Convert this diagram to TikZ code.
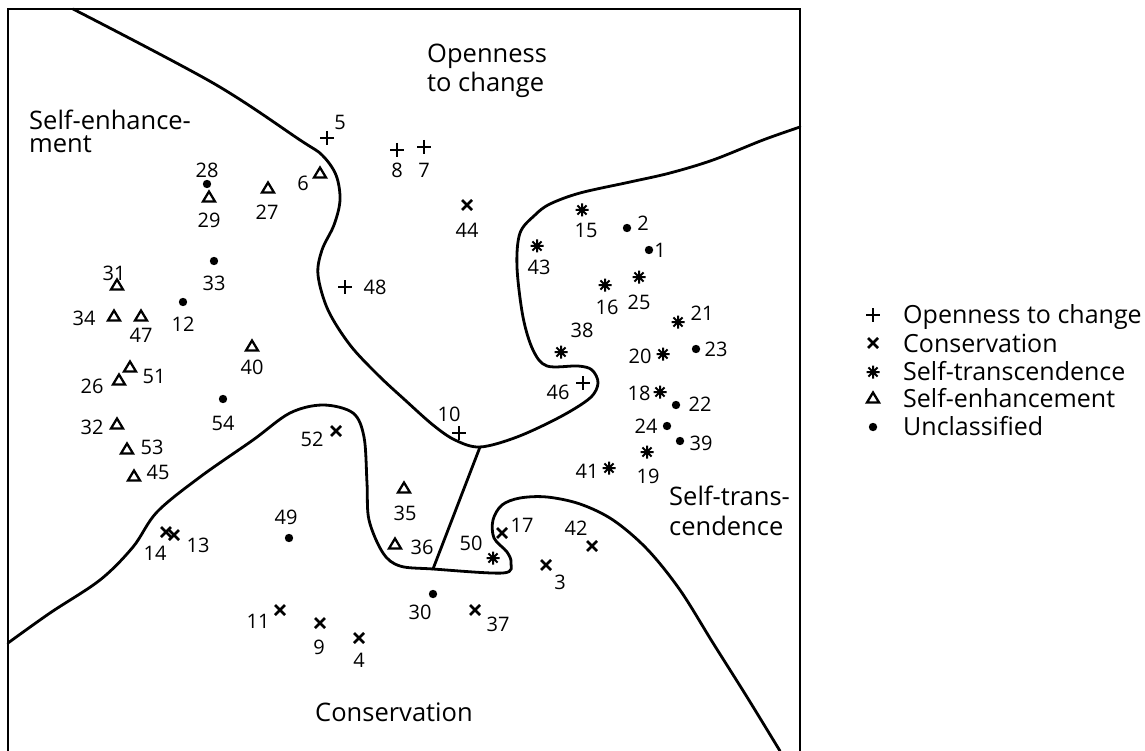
\documentclass[tikz,border=0pt]{standalone}
\usepackage{fontspec}
\setmainfont{Open Sans}
\tikzset{
	mk/.style={line width=2.5pt, line cap=butt},
	num/.style={font=\fontsize{20}{23}\selectfont, inner sep=0pt},
	region/.style={font=\fontsize{25.5}{30}\selectfont, anchor=base west, inner sep=0pt},
	legtxt/.style={font=\fontsize{25}{30}\selectfont, anchor=base west, inner sep=0pt},
	border/.style={line width=2.2pt, line join=miter},
	bound/.style={line width=2.8pt},
	plusmk/.pic={\draw[mk] (-7,0)--(7,0) (0,-7)--(0,7);},
	crossmk/.pic={\draw[mk] (-5,-5)--(5,5) (-5,5)--(5,-5);},
	starmk/.pic={\draw[mk,line width=2pt] (-6.5,0)--(6.5,0) (0,-6.5)--(0,6.5) (-4.6,-4.6)--(4.6,4.6) (-4.6,4.6)--(4.6,-4.6);},
	trimk/.pic={\draw[line width=2.3pt, line join=miter] (-6,4.5)--(6,4.5)--(0,-5.5)--cycle;},
	dotmk/.pic={\fill (0,0) circle (4.2);}
}
\begin{document}
\begin{tikzpicture}[x=1pt, y=-1pt, line join=round, line cap=round]
	\useasboundingbox (0,0) rectangle (1145,751);
	%frame, open at the bottom
	\draw[border] (8,751) -- (8,9) -- (800,9) -- (800,751);
	\coordinate (jtop) at (480,447);
	\coordinate (jbot) at (433,569);
	% region boundaries
	\draw[bound] plot[smooth, tension=0.55] coordinates {(73,9) (213,83) (300,140) (322,155) (336,175) (340,200) (334,225) (322,250) (318,275) (328,310) (350,345) (378,375) (405,400) (433,425) (455,440) (jtop) (517,437) (560,417) (590,398) (598,383) (592,370) (578,366) (547,366) (533,350) (523,317) (517,267) (520,233) (535,215) (550,204) (580,193) (630,182) (670,173) (713,160) (763,140) (800,127)};
	\draw[bound] plot[smooth, tension=0.55] coordinates {(8,643) (50,613) (100,580) (133,547) (157,512) (200,477) (253,440) (290,413) (323,405) (353,413) (364,437) (367,483) (369,520) (383,553) (400,566) (jbot) (503,573) (511,563) (507,552) (494,538) (493,520) (502,505) (520,498) (547,497) (580,504) (613,520) (647,549) (680,590) (713,643) (747,697) (780,751)};
	\draw[bound] (jtop) -- (jbot);
	% region names
	\node[region] (open1) at (427,63) {Openness};
	\node[region] (open2) at (427,92) {to change};
	\node[region] (enh1) at (29,130) {Self-enhance-};
	\node[region] (enh2) at (29,153) {ment};
	\node[region] (tra1) at (669,505) {Self-trans-};
	\node[region] (tra2) at (669,535) {cendence};
	\node[region] (cons) at (315,721) {Conservation};
	% openness to change
	\path (327,138) pic{plusmk} node[num, shift={(13,-16)}] (n5) {5};
	\path (397,150) pic{plusmk} node[num, shift={(0,20)}] (n8) {8};
	\path (424,147) pic{plusmk} node[num, shift={(0,23)}] (n7) {7};
	\path (345,287) pic{plusmk} node[num, shift={(30,0)}] (n48) {48};
	\path (583,383) pic{plusmk} node[num, shift={(-25,9)}] (n46) {46};
	\path (459,433) pic{plusmk} node[num, shift={(-10,-19)}] (n10) {10};
	% conservation
	\path (467,205) pic{crossmk} node[num, shift={(0,25)}] (n44) {44};
	\path (336,431) pic{crossmk} node[num, shift={(-24,8)}] (n52) {52};
	\path (166,532) pic{crossmk} node[num, shift={(-11,21)}] (n14) {14};
	\path (174,535) pic{crossmk} node[num, shift={(24,10)}] (n13) {13};
	\path (502,533) pic{crossmk} node[num, shift={(20,-8)}] (n17) {17};
	\path (592,546) pic{crossmk} node[num, shift={(-16,-18)}] (n42) {42};
	\path (546,565) pic{crossmk} node[num, shift={(14,17)}] (n3) {3};
	\path (280,610) pic{crossmk} node[num, shift={(-22,11)}] (n11) {11};
	\path (320,623) pic{crossmk} node[num, shift={(-1,24)}] (n9) {9};
	\path (359,638) pic{crossmk} node[num, shift={(0,22)}] (n4) {4};
	\path (475,610) pic{crossmk} node[num, shift={(23,14)}] (n37) {37};
	% self-transcendence
	\path (582,210) pic{starmk} node[num, shift={(4,20)}] (n15) {15};
	\path (537,246) pic{starmk} node[num, shift={(2,21)}] (n43) {43};
	\path (605,285) pic{starmk} node[num, shift={(2,22)}] (n16) {16};
	\path (639,277) pic{starmk} node[num, shift={(0,25)}] (n25) {25};
	\path (678,322) pic{starmk} node[num, shift={(24,-9)}] (n21) {21};
	\path (561,352) pic{starmk} node[num, shift={(21,-22)}] (n38) {38};
	\path (663,354) pic{starmk} node[num, shift={(-23,2)}] (n20) {20};
	\path (660,392) pic{starmk} node[num, shift={(-21,1)}] (n18) {18};
	\path (647,452) pic{starmk} node[num, shift={(1,24)}] (n19) {19};
	\path (609,468) pic{starmk} node[num, shift={(-22,3)}] (n41) {41};
	\path (493,558) pic{starmk} node[num, shift={(-22,-15)}] (n50) {50};
	% self-enhancement
	\path (320,173) pic{trimk} node[num, shift={(-17,10)}] (n6) {6};
	\path (209,197) pic{trimk} node[num, shift={(0,23)}] (n29) {29};
	\path (268,188) pic{trimk} node[num, shift={(-1,24)}] (n27) {27};
	\path (117,285) pic{trimk} node[num, shift={(-3,-12)}] (n31) {31};
	\path (114,316) pic{trimk} node[num, shift={(-30,2)}] (n34) {34};
	\path (141,316) pic{trimk} node[num, shift={(0,19)}] (n47) {47};
	\path (252,346) pic{trimk} node[num, shift={(0,21)}] (n40) {40};
	\path (130,367) pic{trimk} node[num, shift={(24,9)}] (n51) {51};
	\path (119,380) pic{trimk} node[num, shift={(-27,6)}] (n26) {26};
	\path (117,424) pic{trimk} node[num, shift={(-25,3)}] (n32) {32};
	\path (127,449) pic{trimk} node[num, shift={(25,-2)}] (n53) {53};
	\path (134,476) pic{trimk} node[num, shift={(24,-4)}] (n45) {45};
	\path (404,488) pic{trimk} node[num, shift={(1,25)}] (n35) {35};
	\path (395,544) pic{trimk} node[num, shift={(27,3)}] (n36) {36};
	% unclassified
	\path (207,184) pic{dotmk} node[num, shift={(0,-14)}] (n28) {28};
	\path (627,228) pic{dotmk} node[num, shift={(16,-5)}] (n2) {2};
	\path (649,250) pic{dotmk} node[num, shift={(11,0)}] (n1) {1};
	\path (214,261) pic{dotmk} node[num, shift={(0,22)}] (n33) {33};
	\path (183,302) pic{dotmk} node[num, shift={(0,22)}] (n12) {12};
	\path (223,399) pic{dotmk} node[num, shift={(0,24)}] (n54) {54};
	\path (696,349) pic{dotmk} node[num, shift={(20,0)}] (n23) {23};
	\path (676,405) pic{dotmk} node[num, shift={(24,-1)}] (n22) {22};
	\path (667,426) pic{dotmk} node[num, shift={(-21,0)}] (n24) {24};
	\path (680,441) pic{dotmk} node[num, shift={(21,2)}] (n39) {39};
	\path (289,538) pic{dotmk} node[num, shift={(-3,-21)}] (n49) {49};
	\path (433,594) pic{dotmk} node[num, shift={(-13,18)}] (n30) {30};
	% legend
	\path (873,315) pic{plusmk};
	\node[legtxt] (leg1) at (903,323) {Openness to change};
	\path (873,343) pic{crossmk};
	\node[legtxt] (leg2) at (903,352) {Conservation};
	\path (873,372) pic{starmk};
	\node[legtxt] (leg3) at (903,380) {Self-transcendence};
	\path (873,398) pic{trimk};
	\node[legtxt] (leg4) at (903,407) {Self-enhancement};
	\path (873,427) pic{dotmk};
	\node[legtxt] (leg5) at (903,435) {Unclassified};
\end{tikzpicture}
\end{document}
